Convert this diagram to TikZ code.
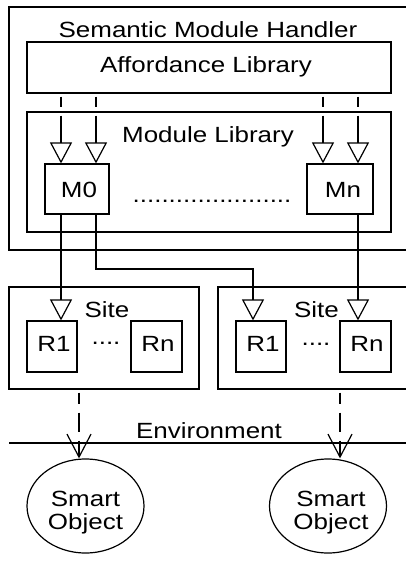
\documentclass[tikz,border=0pt]{standalone}
\usepackage{fontspec}
\setmainfont[FakeStretch=1.18]{Liberation Sans}
\usetikzlibrary{arrows.meta,shapes.geometric,fit}

\begin{document}
\begin{tikzpicture}[x=1pt,y=-1pt,line width=1.2pt,
    font=\fontsize{22}{23}\selectfont,
    box/.style={draw,rectangle,inner sep=0pt},
    obj/.style={draw,ellipse,inner sep=0pt,
      minimum width=117pt,minimum height=94pt},
    flow/.style={-{Triangle[open,length=21pt,width=22pt]}},
    feed/.style={flow,shorten <=3pt,dash pattern=on 10pt off 9pt on 80pt off 9pt},
    sense/.style={-{Straight Barb[length=23pt,width=24pt]},shorten <=3pt,
      dash pattern=on 11pt off 9pt on 19pt off 9pt on 80pt off 9pt}]
    \useasboundingbox (0,0) rectangle (406,563);
    \clip (0,0) rectangle (406,563);
    % handler with affordance and module libraries
    \node[box,fit={(9,7) (430,250)}] (smh) {};
    \node[anchor=base] (smhName) at (208,37) {Semantic Module Handler};
    \node[box,fit={(27,42) (391,93)}] (aff) {};
    \node[anchor=base] (affName) at (206,72) {Affordance Library};
    \node[box,fit={(27,112) (391,232)}] (mlib) {};
    \node[anchor=base] (mlibName) at (208,142) {Module Library};
    \node[box,fit={(45,164) (109,214)}] (m0) {};
    \node[anchor=base] (m0Name) at (79,197) {M0};
    \node[box,fit={(307,164) (373,214)}] (mn) {};
    \node[anchor=base] (mnName) at (343,197) {Mn};
    \node[anchor=base] (mdots) at (212,202) {......................};
    % sites
    \node[box,fit={(9,287) (199,389)}] (siteL) {};
    \node[box,fit={(218,287) (430,389)}] (siteR) {};
    \node[anchor=base] (siteLName) at (107,317) {Site};
    \node[anchor=base] (siteRName) at (316.5,317) {Site};
    \node[box,fit={(27,321) (77,372)}] (r1L) {};
    \node[anchor=base] (r1LName) at (54,351) {R1};
    \node[box,fit={(131,321) (182,372)}] (rnL) {};
    \node[anchor=base] (rnLName) at (158,351) {Rn};
    \node[anchor=base] (rdotsL) at (106,344) {....};
    \node[box,fit={(236,321) (286,372)}] (r1R) {};
    \node[anchor=base] (r1RName) at (263,351) {R1};
    \node[box,fit={(340,321) (391,372)}] (rnR) {};
    \node[anchor=base] (rnRName) at (367,351) {Rn};
    \node[anchor=base] (rdotsR) at (316,345) {....};
    % environment
    \node[anchor=base] (env) at (209,438) {Environment};
    \coordinate (envW) at (9,443);
    \coordinate (envE) at (430,443);
    \draw (envW) -- (envE);
    \node[obj] (objL) at (85.5,506) {};
    \node[align=center] (objLName) at (85.5,513) {Smart\\Object};
    \node[obj] (objR) at (328,506) {};
    \node[align=center] (objRName) at (331,513) {Smart\\Object};
    % lanes for the connectors
    \coordinate (laneA) at (61,0);
    \coordinate (laneB) at (96,0);
    \coordinate (laneC) at (323,0);
    \coordinate (laneD) at (358,0);
    \coordinate (laneE) at (79,0);
    \coordinate (laneF) at (340,0);
    \coordinate (bend) at (253,269);
    \foreach \l in {laneA,laneB}
      \draw[feed] (aff.south -| \l) -- (m0.north -| \l);
    \foreach \l in {laneC,laneD}
      \draw[feed] (aff.south -| \l) -- (mn.north -| \l);
    \draw[flow] (m0.south -| laneA) -- (r1L.north -| laneA);
    \draw[flow] (m0.south -| laneB) |- (bend) -- (r1R.north -| bend);
    \draw[flow] (mn.south -| laneD) -- (rnR.north -| laneD);
    \draw[sense] (siteL.south -| laneE) -- (objL.north -| laneE);
    \draw[sense] (siteR.south -| laneF) -- (objR.north -| laneF);
\end{tikzpicture}
\end{document}
